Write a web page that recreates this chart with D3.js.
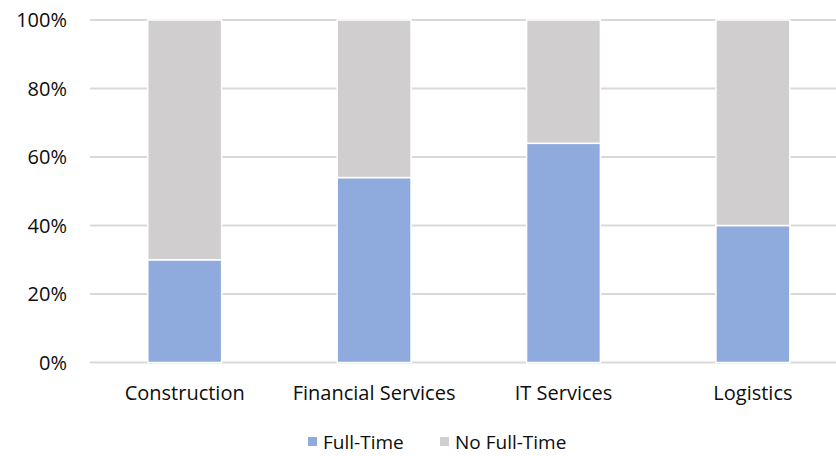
<!DOCTYPE html>
<html>
<head>
<meta charset="utf-8">
<script src="https://cdn.jsdelivr.net/npm/d3@7"></script>
<style>
  body { margin: 0; background: #fff; }
  text { font-family: "Open Sans", sans-serif; fill: #0d0d0d; }
</style>
</head>
<body>
<div id="viz"></div>
<script>
var categories = ['Construction', 'Financial Services', 'IT Services', 'Logistics'];
var fullTime = [0.30, 0.54, 0.64, 0.40];
var noFullTime = [0.70, 0.46, 0.36, 0.60];
var seriesNames = ['Full-Time', 'No Full-Time'];
var seriesColors = ['#8faadc', '#d0cece'];
var yTicks = [0, 0.2, 0.4, 0.6, 0.8, 1];

var width = 836,
    height = 456,
    plotLeft = 90,
    plotTop = 20,
    plotBottom = 362.5,
    bandStep = 189.4,
    fontSize = '20px';

var rows = categories.map(function(c, i) {
    return { cat: c, 'Full-Time': fullTime[i], 'No Full-Time': noFullTime[i] };
});
var stacked = d3.stack().keys(seriesNames)(rows);

var xScale = d3.scaleBand()
    .domain(categories)
    .range([plotLeft, plotLeft + bandStep * categories.length])
    .paddingInner(0.61)
    .paddingOuter(0.305);

var yScale = d3.scaleLinear()
    .domain([0, 1])
    .range([plotBottom, plotTop]);

var svg = d3.select('#viz').append('svg')
    .attr('width', width)
    .attr('height', height);

// gridlines
svg.append('g').selectAll('line').data(yTicks)
    .enter().append('line')
    .attr('x1', plotLeft)
    .attr('x2', width)
    .attr('y1', function(d) { return yScale(d); })
    .attr('y2', function(d) { return yScale(d); })
    .attr('stroke', '#d9d9d9')
    .attr('stroke-width', 2);

// y labels
svg.append('g').selectAll('text').data(yTicks)
    .enter().append('text')
    .attr('x', 67)
    .attr('y', function(d) { return yScale(d); })
    .attr('dy', '0.35em')
    .attr('text-anchor', 'end')
    .style('font-size', fontSize)
    .text(d3.format('.0%'));

// bars
svg.append('g').selectAll('g').data(stacked)
    .enter().append('g')
    .attr('fill', function(d, i) { return seriesColors[i]; })
  .selectAll('rect').data(function(d) { return d; })
    .enter().append('rect')
    .attr('x', function(d) { return xScale(d.data.cat); })
    .attr('width', xScale.bandwidth())
    .attr('y', function(d) { return yScale(d[1]); })
    .attr('height', function(d) { return yScale(d[0]) - yScale(d[1]); })
    .attr('stroke', '#fff')
    .attr('stroke-width', 1.5);

// x labels
svg.append('g').selectAll('text').data(categories)
    .enter().append('text')
    .attr('x', function(d) { return xScale(d) + xScale.bandwidth() / 2; })
    .attr('y', 400)
    .attr('text-anchor', 'middle')
    .style('font-size', fontSize)
    .text(function(d) { return d; });

// legend
var legendX = [308, 440];
var legend = svg.append('g').selectAll('g').data(seriesNames)
    .enter().append('g')
    .attr('transform', function(d, i) { return 'translate(' + legendX[i] + ',0)'; });
legend.append('rect')
    .attr('x', 0)
    .attr('y', 437)
    .attr('width', 9)
    .attr('height', 9)
    .attr('fill', function(d, i) { return seriesColors[i]; });
legend.append('text')
    .attr('x', 15)
    .attr('y', 449)
    .style('font-size', '19px')
    .text(function(d) { return d; });
</script>
</body>
</html>
